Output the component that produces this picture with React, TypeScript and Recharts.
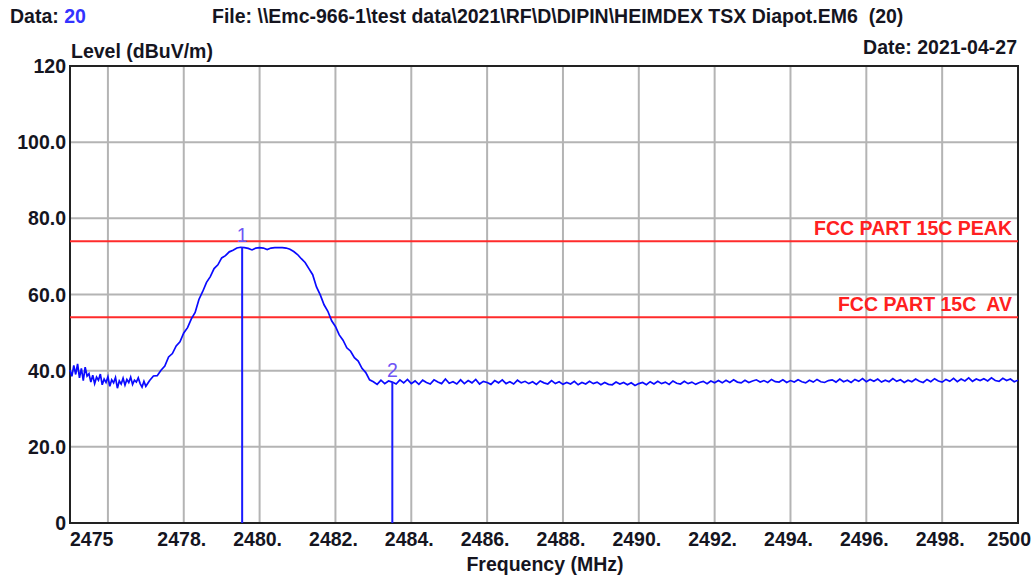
import React from 'react';
import {
  ComposedChart,
  Line,
  XAxis,
  YAxis,
  CartesianGrid,
  ReferenceLine,
  ReferenceArea,
  ReferenceDot,
} from 'recharts';

// sweep 2475.00 - 2477.00 MHz, 0.05 MHz steps
const fineStart = 2475;
const fineStep = 0.05;
const fineLevels = [
  40.2, 38.5, 41.4, 39.0, 41.8, 38.1, 40.6, 37.4, 40.9, 38.6,
  39.2, 37.0, 38.8, 36.6, 38.3, 37.5, 39.1, 36.3, 37.8, 36.9,
  38.4, 35.9, 37.6, 36.8, 38.2, 35.4, 37.3, 36.5, 38.0, 36.2,
  37.7, 36.9, 38.3, 36.4, 37.5, 37.0, 38.1, 36.6, 35.7, 37.2,
  35.9,
];

// sweep 2477.1 - 2500.0 MHz, 0.1 MHz steps
const coarseStart = 2477.1;
const coarseStep = 0.1;
const coarseLevels = [
  37.4, 38.6, 38.7, 40.1, 41.2, 43.6, 44.5, 46.5, 47.6, 49.9,
  51.3, 53.6, 55.3, 58.7, 60.8, 63.2, 64.7, 66.8, 67.8, 69.6,
  70.2, 71.2, 71.6, 72.2, 72.4, 72.3, 72.1, 71.7, 72.2, 72.3,
  72.2, 71.8, 72.2, 72.3, 72.3, 72.3, 72.2, 71.9, 71.3, 70.5,
  69.4, 68.4, 66.8, 65.2, 62.0, 59.9, 57.3, 55.6, 53.1, 51.6,
  49.4, 48.0, 46.0, 45.1, 43.4, 42.5, 40.6, 39.5, 37.6, 37.1,
  36.4, 37.5, 36.6, 37.3, 37.0, 36.5, 37.6, 36.8, 37.7, 36.6,
  37.3, 36.4, 37.5, 36.9, 36.5, 37.6, 37.0, 36.6, 37.8, 36.7,
  37.1, 36.5, 37.6, 36.6, 37.4, 36.8, 37.7, 36.5, 37.2, 36.9,
  36.4, 37.4, 36.8, 37.6, 36.6, 37.1, 36.5, 37.5, 36.8, 37.2,
  36.6, 37.1, 36.4, 37.3, 36.8, 36.5, 37.4, 36.6, 37.1, 36.4,
  36.9, 36.5, 37.2, 36.3, 36.9, 36.5, 37.2, 36.6, 37.0, 36.3,
  36.9, 36.4, 36.3, 37.0, 36.5, 36.9, 36.3, 36.8, 36.1, 36.6,
  36.9, 36.3, 37.1, 36.5, 37.2, 36.6, 37.0, 36.4, 37.3, 36.7,
  36.5, 37.2, 36.6, 37.0, 36.4, 36.9, 37.2, 36.6, 37.3, 36.8,
  37.4, 36.8, 37.5, 36.9, 37.6, 37.0, 36.8, 37.5, 36.9, 37.3,
  37.6, 37.0, 37.4, 36.9, 37.7, 37.1, 37.0, 37.6, 36.9, 37.4,
  37.0, 37.6, 37.1, 36.8, 37.5, 37.0, 37.7, 37.1, 36.9, 37.4,
  37.6, 37.0, 37.8, 37.1, 37.5, 36.9, 37.7, 37.2, 37.9, 37.1,
  37.7, 37.2, 37.8, 37.0, 37.5, 37.1, 37.9, 37.2, 37.6, 36.9,
  37.5, 37.1, 37.8, 37.2, 36.9, 37.7, 37.1, 37.9, 37.3, 37.0,
  37.7, 37.2, 38.0, 37.1, 37.8, 37.3, 38.1, 37.2, 37.8, 37.4,
  37.9, 37.3, 38.1, 37.4, 37.2, 38.0, 37.4, 37.8, 37.1, 37.5,
];

const limitValues = [74, 54];
const limitNames = ['FCC PART 15C PEAK', 'FCC PART 15C\u00a0 AV'];

const markerFreqs = [2479.54, 2483.5];
const markerLevels = [72.4, 37.0];
const markerNames = ['1', '2'];

const xTickValues = [2475, 2476, 2478, 2480, 2482, 2484, 2486, 2488, 2490, 2492, 2494, 2496, 2498, 2500];
const xTickLabels = ['2475', '', '2478.', '2480.', '2482.', '2484.', '2486.', '2488.', '2490.', '2492.', '2494.', '2496.', '2498.', '2500'];
const yTickValues = [0, 20, 40, 60, 80, 100, 120];
const yTickLabels = ['0', '20.0', '40.0', '60.0', '80.0', '100.0', '120'];

const data = [
  ...fineLevels.map((level, i) => ({ freq: +(fineStart + i * fineStep).toFixed(2), level })),
  ...coarseLevels.map((level, i) => ({ freq: +(coarseStart + i * coarseStep).toFixed(2), level })),
];

const FONT = "'Liberation Sans', Arial, sans-serif";
const TEXT = '#15151f';
const FS = 19.5;

const FreqTick = ({ x, y, payload }: any) => {
  const idx = xTickValues.indexOf(payload.value);
  const label = xTickLabels[idx];
  if (!label) return <g />;
  let anchor: 'start' | 'middle' | 'end' = 'middle';
  let dx = -2;
  if (idx === 0) {
    anchor = 'start';
    dx = 0;
  } else if (idx === xTickValues.length - 1) {
    anchor = 'end';
    dx = 13;
  }
  return (
    <text x={x + dx} y={y + 23} textAnchor={anchor} fontFamily={FONT} fontSize={FS} fontWeight="bold" fill={TEXT}>
      {label}
    </text>
  );
};

const LevelTick = ({ x, y, payload }: any) => {
  const idx = yTickValues.indexOf(payload.value);
  return (
    <text x={x} y={y + 7} textAnchor="end" fontFamily={FONT} fontSize={FS} fontWeight="bold" fill={TEXT}>
      {yTickLabels[idx]}
    </text>
  );
};

export default function App() {
  return (
    <div style={{ position: 'absolute', left: 0, top: 0, width: 1035, height: 579, background: '#fff' }}>
      <ComposedChart
        width={1035}
        height={579}
        data={data}
        margin={{ top: 66, right: 17, bottom: 0, left: 0 }}
      >
        <CartesianGrid stroke="#b4b4b4" strokeWidth={2} />
        <XAxis
          type="number"
          dataKey="freq"
          domain={[2475, 2500]}
          ticks={xTickValues}
          interval={0}
          height={56}
          tickSize={0}
          tickMargin={0}
          tickLine={false}
          axisLine={false}
          tick={<FreqTick />}
        />
        <YAxis
          type="number"
          domain={[0, 120]}
          ticks={yTickValues}
          interval={0}
          width={70}
          tickSize={0}
          tickMargin={4}
          tickLine={false}
          axisLine={false}
          tick={<LevelTick />}
        />
        <ReferenceArea x1={2475} x2={2500} y1={0} y2={120} fill="none" stroke="#222" strokeWidth={2} />
        {limitValues.map((v, i) => (
          <ReferenceLine
            key={limitNames[i]}
            y={v}
            stroke="#ff2b2b"
            strokeWidth={2}
            label={{
              value: limitNames[i],
              position: 'insideBottomRight',
              offset: 6,
              fill: '#ff2020',
              fontSize: FS,
              fontWeight: 'bold',
              fontFamily: FONT,
            }}
          />
        ))}
        <Line
          type="linear"
          dataKey="level"
          stroke="#0a0aff"
          strokeWidth={1.7}
          dot={false}
          isAnimationActive={false}
        />
        {markerFreqs.map((f, i) => (
          <ReferenceLine
            key={'m' + i}
            segment={[{ x: f, y: 0 }, { x: f, y: markerLevels[i] }]}
            stroke="#1a1aff"
            strokeWidth={2}
          />
        ))}
        {markerFreqs.map((f, i) => (
          <ReferenceDot
            key={'d' + i}
            x={f}
            y={markerLevels[i]}
            r={0.5}
            fill="none"
            stroke="none"
            label={{
              value: markerNames[i],
              position: 'top',
              offset: 5,
              fill: '#6f55f5',
              fontSize: FS,
              fontFamily: FONT,
            }}
          />
        ))}
      </ComposedChart>
      <svg
        width={1035}
        height={579}
        style={{ position: 'absolute', left: 0, top: 0, pointerEvents: 'none' }}
        fontFamily={FONT}
        fontSize={FS}
        fontWeight="bold"
        fill={TEXT}
      >
        <text x={10} y={23}>
          Data: <tspan fill="#3333ff">20</tspan>
        </text>
        <text x={212} y={23} style={{ whiteSpace: 'pre' }}>
          {'File: \\\\Emc-966-1\\test data\\2021\\RF\\D\\DIPIN\\HEIMDEX TSX Diapot.EM6  (20)'}
        </text>
        <text x={71} y={58}>Level (dBuV/m)</text>
        <text x={1017} y={54} textAnchor="end">Date: 2021-04-27</text>
        <text x={545} y={571} textAnchor="middle">Frequency (MHz)</text>
      </svg>
    </div>
  );
}
